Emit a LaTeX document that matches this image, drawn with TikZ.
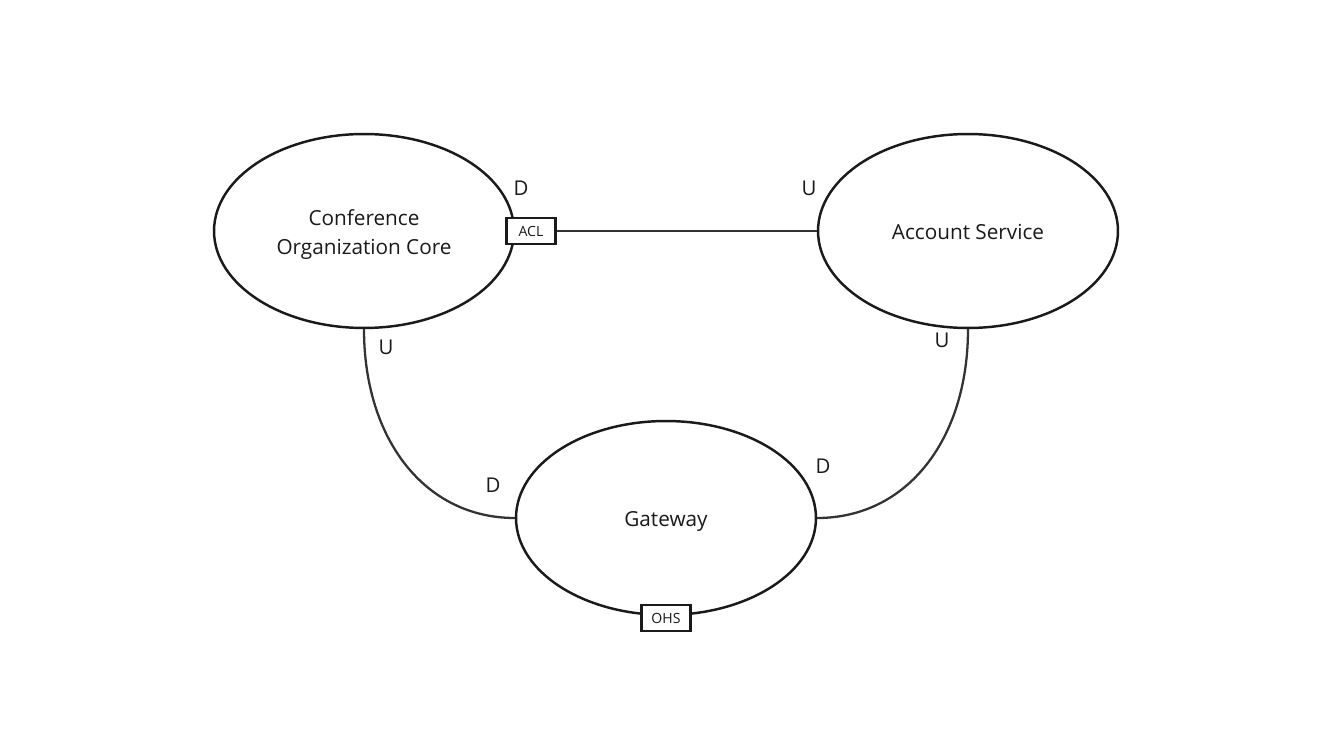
\documentclass[tikz,border=0pt]{standalone}
\usepackage{fontspec}
\setmainfont{Open Sans}
\usetikzlibrary{shapes.geometric,positioning}
\definecolor{inkdark}{HTML}{1A1A1A}
\definecolor{linkgray}{HTML}{333333}

\begin{document}
\begin{tikzpicture}[
  x=0.02cm, y=-0.02cm,
  context/.style={ellipse, draw=inkdark, line width=1.4pt, fill=white,
                  minimum width=6cm, minimum height=3.88cm, inner sep=0pt},
  ctxtext/.style={align=center, text=inkdark, inner sep=0pt,
                  font=\fontsize{11.8}{16.5}\selectfont},
  pattern/.style={rectangle, draw=inkdark, line width=1.6pt, fill=white,
                  minimum width=0.98cm, minimum height=0.52cm, inner sep=0pt,
                  text=inkdark, font=\fontsize{8}{9}\selectfont},
  link/.style={draw=linkgray, line width=1.3pt},
  rolelabel/.style={text=inkdark, inner sep=0pt, font=\fontsize{11.6}{14}\selectfont}
]
  \useasboundingbox (0,0) rectangle (1333,750);

  % bounded contexts
  \node[context, label={[ctxtext, yshift=-0.07cm]center:Conference\\Organization Core}]
       (core) at (364,231) {};
  \node[context, label={[ctxtext, yshift=-0.02cm]center:Account Service}]
       (acct) at (968,231) {};
  \node[context, label={[ctxtext, yshift=-0.06cm]center:Gateway}]
       (gw) at (666,518) {};

  % connectors
  \draw[link] (core.south) .. controls +(0,110) and +(-90,0) .. (gw.west);
  \draw[link] (acct.south) .. controls +(0,110) and +(90,0) .. (gw.east);

  % integration patterns
  \node[pattern] (acl) at (531,231) {ACL};
  \node[pattern] (ohs) at (666,618) {OHS};
  \draw[link] (acl.east) -- (acct.west);

  % upstream / downstream marks
  \node[rolelabel] (coreD) at (521,188) {D};
  \node[rolelabel] (acctU) at (809,188) {U};
  \node[rolelabel] (coreU) at (386,347) {U};
  \node[rolelabel] (gwDl)  at (493,485) {D};
  \node[rolelabel] (acctUb) at (942,340) {U};
  \node[rolelabel] (gwDr)  at (823,466) {D};
\end{tikzpicture}
\end{document}
